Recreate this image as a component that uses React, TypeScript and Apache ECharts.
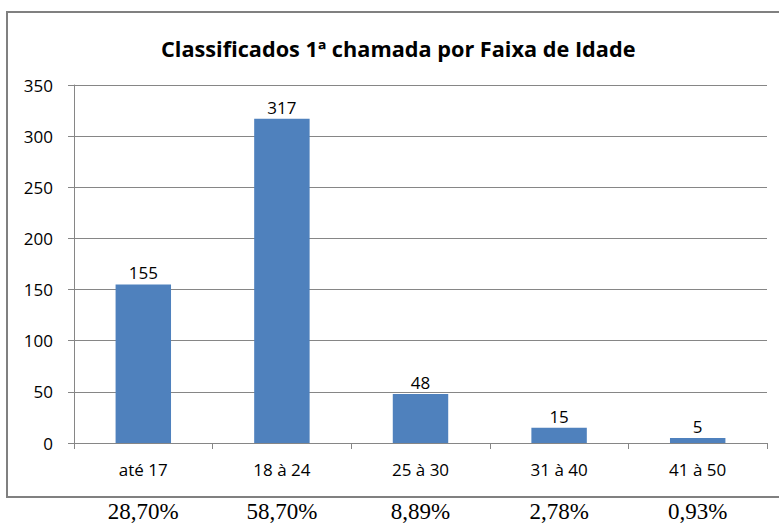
import React, { useEffect, useRef } from "react";
import * as echarts from "echarts";

const categories = ["até 17", "18 à 24", "25 à 30", "31 à 40", "41 à 50"];
const values = [155, 317, 48, 15, 5];
const percentages = ["28,70%", "58,70%", "8,89%", "2,78%", "0,93%"];
const titleText = "Classificados 1ª chamada por Faixa de Idade";

export default function App() {
  const ref = useRef<HTMLDivElement>(null);
  useEffect(() => {
    document.body.style.margin = "0";
    const chart = echarts.init(ref.current!, null, { renderer: "svg" });
    const sans = "'Open Sans', 'Noto Sans', sans-serif";
    chart.setOption({
      animation: false,
      backgroundColor: "#ffffff",
      title: {
        text: titleText,
        left: 156,
        top: 32,
        textStyle: { fontFamily: sans, fontWeight: "bold", fontSize: 21.7, color: "#000" },
      },
      grid: { left: 74, right: 12, top: 85, bottom: 81 },
      xAxis: [
        {
          type: "category",
          data: categories,
          axisLine: { show: true, lineStyle: { color: "#868686", width: 1 } },
          axisTick: { show: true, length: 6, alignWithLabel: false, lineStyle: { color: "#868686" } },
          axisLabel: { fontFamily: sans, fontSize: 17, color: "#000", margin: 18 },
        },
        {
          type: "category",
          data: percentages,
          position: "bottom",
          offset: 45,
          axisLine: { show: false },
          axisTick: { show: false },
          axisLabel: { fontFamily: "'Liberation Serif', 'DejaVu Serif', serif", fontSize: 23, color: "#000", margin: 12 },
        },
      ],
      yAxis: {
        type: "value",
        min: 0,
        max: 350,
        interval: 50,
        axisLine: { show: true, lineStyle: { color: "#868686" } },
        axisTick: { show: true, length: 6, lineStyle: { color: "#868686" } },
        axisLabel: { fontFamily: sans, fontSize: 17, color: "#000", margin: 21 },
        splitLine: { show: true, lineStyle: { color: "#868686", width: 1 } },
      },
      series: [
        {
          type: "bar",
          data: values,
          xAxisIndex: 0,
          barWidth: "40%",
          itemStyle: { color: "#4F81BD" },
          label: {
            show: true,
            position: "top",
            distance: 3,
            fontFamily: sans,
            fontSize: 17,
            color: "#000",
          },
        },
      ],
      graphic: [
        {
          type: "rect",
          shape: { x: 7, y: 12, width: 790, height: 485 },
          style: { fill: "none", stroke: "#808080", lineWidth: 2 },
          silent: true,
          z: 100,
        },
      ],
    });
    return () => chart.dispose();
  }, []);
  return <div ref={ref} style={{ width: 779, height: 524 }} />;
}
